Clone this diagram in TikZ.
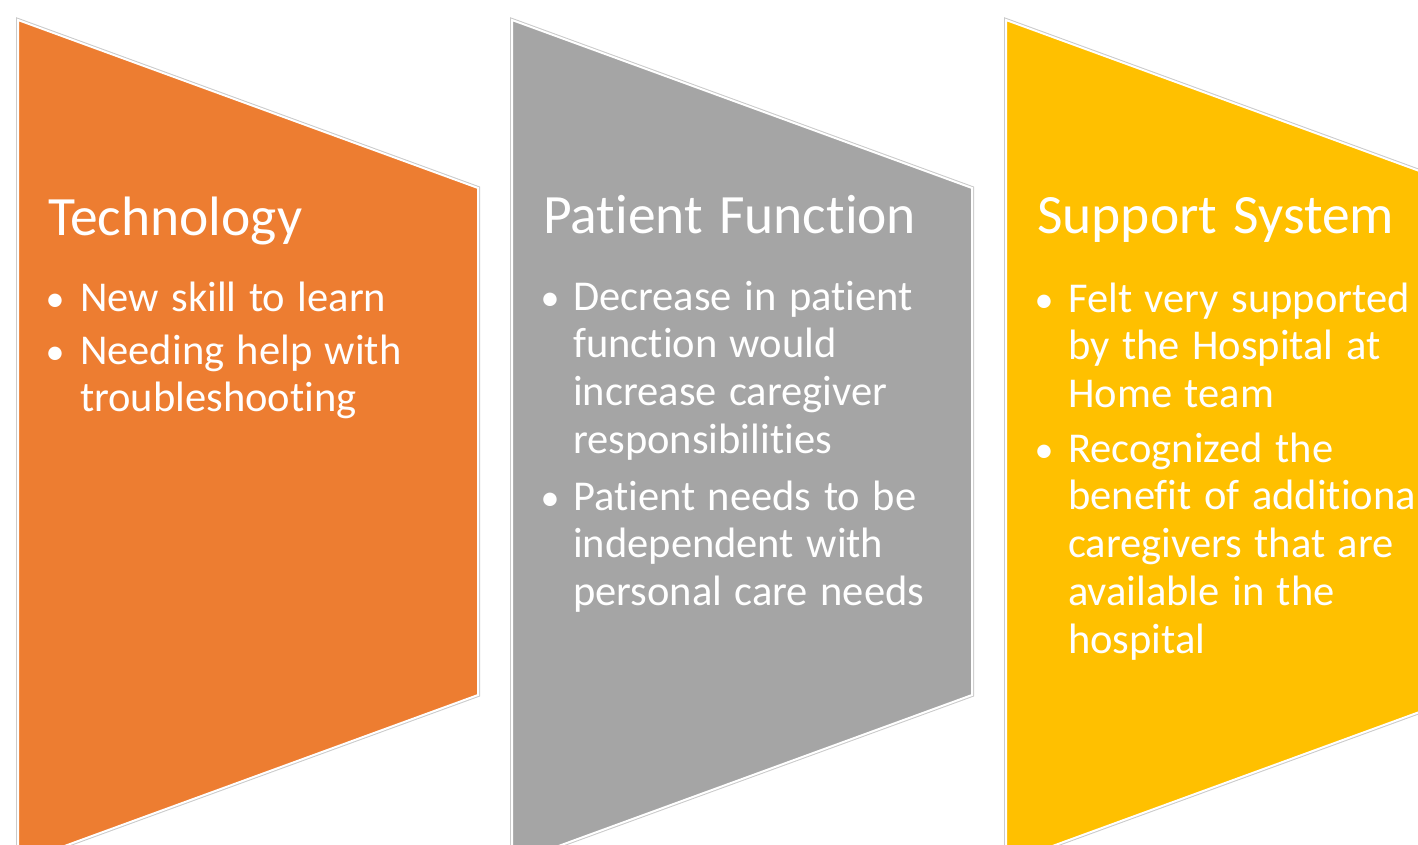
\documentclass[tikz,border=0pt]{standalone}
\usepackage{fontspec}
\setmainfont{Carlito}[Ligatures={NoCommon},WordSpace=1.3]
\definecolor{corange}{HTML}{ED7D31}
\definecolor{cgray}{HTML}{A5A5A5}
\definecolor{cgold}{HTML}{FFC000}
\definecolor{cedge}{HTML}{CACACA}
\begin{document}
\begin{tikzpicture}[x=1pt,y=-1pt,
  titletext/.style={anchor=base west,inner sep=0pt,text=white,font=\fontsize{55.5}{60}\selectfont},
  bodytext/.style={anchor=base west,inner sep=0pt,text=white,align=left,font=\fontsize{42.5}{47.8}\selectfont},
  bulletdot/.style={anchor=base,inner sep=0pt,text=white,font=\fontsize{38}{48}\selectfont},
  chevshadow/.style={draw=cedge,line width=4pt,line join=miter},
  chevshape/.style={draw=white,line width=2pt,line join=miter}]
\useasboundingbox (0,0) rectangle (1418,844);
\clip (0,0) rectangle (1418,844);
\foreach \L/\c in {18/corange,512/cgray,1006/cgold}{
  \draw[chevshadow] (\L,20) -- (\L+460,188) -- (\L+460,695) -- (\L,863) -- cycle;
  \filldraw[chevshape,fill=\c] (\L,20) -- (\L+460,188) -- (\L+460,695) -- (\L,863) -- cycle;
}
% Technology (multi-line nodes are placed by the baseline of their last line)
\node[titletext] (t1) at (48,235) {Technology};
\node[bulletdot] (d11) at (55,311) {•};
\node[bodytext] (b11) at (80,311) {New skill to learn};
\node[bulletdot] (d12) at (55,364) {•};
\node[bodytext] (b12) at (80,411.8) {Needing help with\\troubleshooting};
% Patient Function
\node[titletext] (t2) at (543,233) {Patient Function};
\node[bulletdot] (d21) at (550,310) {•};
\node[bodytext] (b21) at (573,453.4) {Decrease in patient\\function would\\increase caregiver\\responsibilities};
\node[bulletdot] (d22) at (550,510) {•};
\node[bodytext] (b22) at (573,605.6) {Patient needs to be\\independent with\\personal care needs};
% Support System
\node[titletext] (t3) at (1037,233) {Support System};
\node[bulletdot] (d31) at (1044,312) {•};
\node[bodytext] (b31) at (1068,407.6) {Felt very supported\\by the Hospital at\\Home team};
\node[bulletdot] (d32) at (1044,462) {•};
\node[bodytext] (b32) at (1068,653.2) {Recognized the\\benefit of additional\\caregivers that are\\available in the\\hospital};
\end{tikzpicture}
\end{document}
